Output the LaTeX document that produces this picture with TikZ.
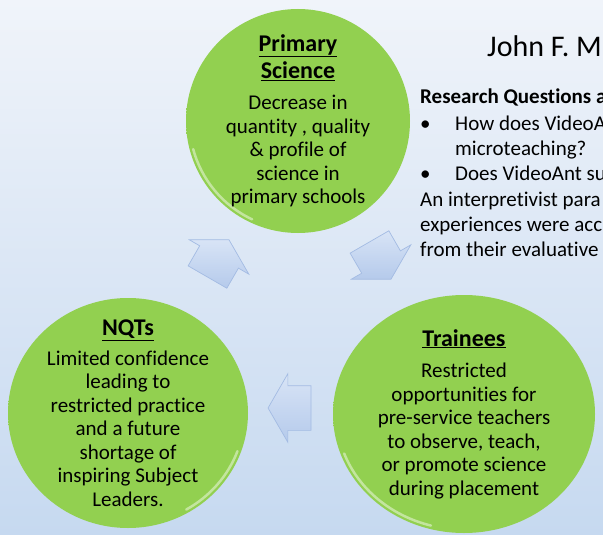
\documentclass[tikz,border=0pt]{standalone}
\usepackage{fontspec}
\setmainfont{Carlito}[Ligatures=NoCommon]
\usetikzlibrary{
	positioning,
	shapes.geometric,
	shapes.arrows,
}
\definecolor{bgtop}{HTML}{F0F4FA}
\definecolor{bgbot}{HTML}{C6D9F0}
\definecolor{leaf}{HTML}{92D050}
\definecolor{leafrim}{HTML}{C8EE95}
\definecolor{leafedge}{HTML}{88C443}
\definecolor{ice}{HTML}{B5CAEB}
\definecolor{icelight}{HTML}{D8E4F6}
\definecolor{iceedge}{HTML}{A3BBE3}
\pgfdeclareradialshading{bubble}{\pgfpoint{0bp}{0bp}}{color(0bp)=(leaf); color(44bp)=(leaf); color(48.5bp)=(leafrim); color(50bp)=(leafedge)}
\newcommand{\bodyfont}{\fontsize{21}{23.5}\selectfont}
\newcommand{\headfont}{\fontsize{24}{27}\selectfont\bfseries}
\tikzset{bubble/.style={ellipse,shading=bubble,inner sep=0pt,}}
\tikzset{gloss/.style={white,opacity=.45,line width=2.5pt,line cap=round,}}
\tikzset{blurb/.style={inner sep=0pt,align=center,font=\bodyfont,}}
\tikzset{turn/.style={single arrow,single arrow tip angle=120,single arrow head extend=12pt,minimum height=43pt,inner xsep=0pt,inner ysep=22pt,top color=icelight,bottom color=ice,draw=iceedge,line width=.7pt,}}
\tikzset{side/.style={anchor=base west,inner sep=0pt,font=\bodyfont,}}

\begin{document}
\begin{tikzpicture}[x=1pt,y=-1pt]

\useasboundingbox (0,0) rectangle (603,535);
\clip (0,0) rectangle (603,535);
\fill[top color=bgtop,bottom color=bgbot] (0,0) rectangle (603,535);

% text running off to the right
\node[side,font=\fontsize{30}{36}\selectfont] (title) at (487,57) {John F. M};
\node[side,font=\bodyfont\bfseries] (rq) at (420,103) {Research Questions a};
\node[side] (b1) at (420,130) {\makebox[35pt][l]{•}How does VideoA};
\node[side] (b1b) at (455,155) {microteaching?};
\node[side] (b2) at (420,180) {\makebox[35pt][l]{•}Does VideoAnt su};
\node[side] (p1) at (420,206) {An interpretivist para};
\node[side] (p2) at (420,231) {experiences were acc};
\node[side] (p3) at (420,256) {from their evaluative};

% the cycle
\node[bubble,minimum width=224pt,minimum height=224pt] (ps) at (298,121) {};
\node[bubble,minimum width=262pt,minimum height=238pt] (tr) at (464,414) {};
\node[bubble,minimum width=240pt,minimum height=230pt] (nq) at (128,413) {};

% shine along the lower rims
\draw[gloss] (ps.center) ++(165:108.5 and 108.5) arc[start angle=165,end angle=115,x radius=108.5,y radius=108.5];
\draw[gloss] (tr.center) ++(160:127.5 and 115.5) arc[start angle=160,end angle=105,x radius=127.5,y radius=115.5];
\draw[gloss] (nq.center) ++(60:116.5 and 111.5) arc[start angle=60,end angle=20,x radius=116.5,y radius=111.5];

\node[blurb] (pst) at (ps) {{\headfont\underline{Primary}}\\[3.5pt]{\headfont\underline{Science}}\\[8pt]Decrease in\\quantity , quality\\\& profile of\\science in\\primary schools};
\node[blurb] (trt) at (tr) {{\headfont\underline{Trainees}}\\[8pt]Restricted\\opportunities for\\pre-service teachers\\to observe, teach,\\or promote science\\during placement};
\node[blurb] (nqt) at (nq) {{\headfont\underline{NQTs}}\\[6pt]Limited confidence\\leading to\\restricted practice\\and a future\\shortage of\\inspiring Subject\\Leaders.};

\node[turn,rotate=60] (a1) at (215,264) {};
\node[turn,rotate=-60] (a2) at (377,255) {};
\node[turn,rotate=180] (a3) at (296,408) {};

\end{tikzpicture}
\end{document}
